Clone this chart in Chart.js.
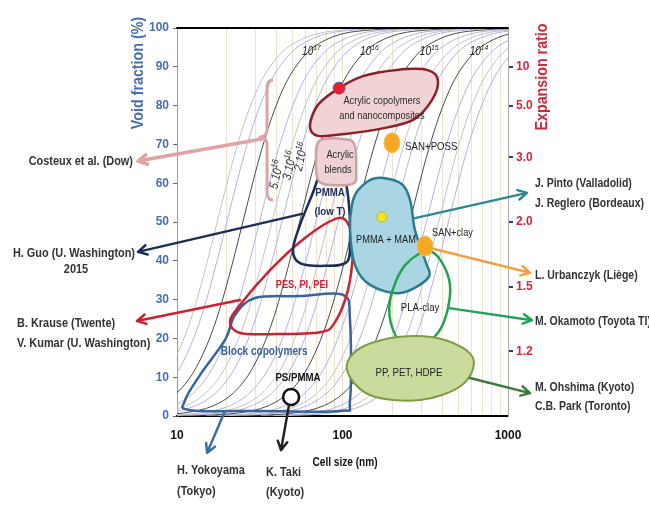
<!DOCTYPE html>
<html>
<head>
<meta charset="utf-8">
<script src="https://cdn.jsdelivr.net/npm/chart.js@4/dist/chart.umd.min.js"></script>
<style>
  html, body { margin: 0; padding: 0; background: #fff; }
</style>
</head>
<body>
<canvas id="chart" width="649" height="505"></canvas>
<script>
// ---- axes ----
const cellTicks = [10, 20, 30, 40, 50, 60, 70, 80, 90, 100, 200, 300, 400, 500, 600, 700, 800, 900, 1000];
const cellLabels = { 10: "10", 100: "100", 1000: "1000" };
const voidTicks = [0, 10, 20, 30, 40, 50, 60, 70, 80, 90, 100];
const ratioTicks = [10, 5.0, 3.0, 2.0, 1.5, 1.2];
const ratioLabels = ["10", "5.0", "3.0", "2.0", "1.5", "1.2"];

// ---- iso cell density curves ----
// cell size (nm) where each curve crosses 50 % void fraction
const densityNames = ["3.10^17", "2.10^17", "10^17", "5.10^16", "3.10^16", "2.10^16", "10^16", "5.10^15", "3.10^15", "2.10^15", "10^15", "5.10^14", "3.10^14", "2.10^14", "10^14", "5.10^13", "3.10^13", "2.10^13"];
const densityMid = [17.5, 20, 25, 31.5, 37.5, 43, 55, 69, 82, 94, 118, 149, 177, 202, 255, 321, 381, 436];
// shape of one curve: cell size / mid size  ->  void fraction (%)
const curveRatio = [0.1, 0.2, 0.3, 0.4, 0.5, 0.6, 0.7, 0.8, 0.9, 1, 1.15, 1.3, 1.5, 1.75, 2, 2.5, 3, 4, 6, 10, 40];
const curveVoid = [0.1, 0.8, 2.6, 6.0, 11.1, 17.8, 25.5, 33.9, 42.2, 50, 60.3, 68.7, 77.1, 84.3, 88.9, 94.0, 96.4, 98.5, 99.5, 99.9, 100];

// ---- material domains, [cell size nm, void fraction %] ----
const blockCopolymers = [[100.7, 31.2], [55.3, 30.9], [29.6, 30.4], [22.4, 26.0], [19.5, 19.6], [13.8, 10.6], [11.2, 4.1], [12.0, 1.5], [31.7, 1.3], [96.6, 1.3], [111, 4.1], [111, 24.7]];
const pesPiPei = [[94, 51.0], [111, 48.5], [115.6, 42.8], [107.9, 32.5], [90.1, 24.2], [73.1, 21.6], [36.5, 21.1], [24.0, 21.4], [20.9, 24.2], [24.0, 28.6], [36.5, 37.6], [59.3, 45.9]];
const pmmaLowT = [[75.2, 63.4], [65.5, 57.0], [55.3, 49.2], [50.2, 42.8], [55.3, 39.4], [78.3, 38.7], [106.4, 39.7], [111, 45.4], [109.4, 54.4], [103.5, 60.8], [90.1, 64.4]];
const acrylicCopolymers = [[95.3, 84.5], [133, 87.6], [213, 89.2], [324, 89.2], [377, 86.6], [347, 81.4], [267, 76.3], [168.5, 74.0], [103.5, 72.7], [71.1, 72.2], [63.6, 74.7], [71.1, 80.2]];
const acrylicBlends = [[73, 71], [100, 71.4], [118, 70], [121, 63], [117, 60], [90, 59.5], [72, 60.5], [69, 66]];
const pmmaMam = [[124.2, 58.2], [157, 61.3], [222.5, 60.1], [255.8, 55.7], [274, 47.9], [315, 40.2], [329, 35.6], [222.5, 31.7], [146.6, 33.8], [119, 38.9], [111, 47.9], [114, 54.4]];
const plaClay = [[347, 42.3], [446, 33.8], [388, 22.2], [256, 17.0], [202, 22.2], [194, 29.9], [239, 38.9]];
const ppPetHdpe = [[106.4, 11.9], [127.6, 17.5], [222.5, 20.4], [416, 19.6], [615, 14.9], [527, 8.0], [294, 4.1], [146.6, 5.4]];
// single results
const dotNames = ["acrylic", "SAN+POSS", "PMMA+MAM", "SAN+clay", "PS/PMMA"];
const dotCell = [95.3, 199, 173, 315, 48.9];
const dotVoid = [84.5, 70.4, 51.3, 43.8, 4.9];

function curveColor(name) {
  if (name.indexOf(".") < 0) return "#4a4a4a";
  return name.charAt(0) === "3" ? "#c2c2c8" : "#b3b3df";
}

const curveSets = densityNames.map(function (name, i) {
  return {
    label: name,
    data: curveRatio.map(function (r, k) { return { x: densityMid[i] * r, y: curveVoid[k] }; }),
    showLine: true,
    borderColor: curveColor(name),
    borderWidth: 1,
    pointRadius: 0,
    cubicInterpolationMode: "monotone"
  };
});

const FONT = "'Liberation Sans Narrow', 'Liberation Sans', Arial, sans-serif";

// squeeze text when no narrow face is installed
var squeeze = (function () {
  var c = document.createElement("canvas").getContext("2d");
  c.font = "bold 20px 'Liberation Sans Narrow', monospace";
  var a = c.measureText("Costeux et al. (Dow)").width;
  c.font = "bold 20px monospace";
  var b = c.measureText("Costeux et al. (Dow)").width;
  return Math.abs(a - b) < 0.5 ? 0.84 : 1;
})();

function toPx(chart, p) {
  return [chart.scales.x.getPixelForValue(p[0]), chart.scales.y.getPixelForValue(p[1])];
}

function smoothClosed(ctx, pts) {
  var n = pts.length;
  ctx.beginPath();
  ctx.moveTo(pts[0][0], pts[0][1]);
  for (var i = 0; i < n; i++) {
    var p0 = pts[(i - 1 + n) % n], p1 = pts[i], p2 = pts[(i + 1) % n], p3 = pts[(i + 2) % n];
    ctx.bezierCurveTo(
      p1[0] + (p2[0] - p0[0]) / 6, p1[1] + (p2[1] - p0[1]) / 6,
      p2[0] - (p3[0] - p1[0]) / 6, p2[1] - (p3[1] - p1[1]) / 6,
      p2[0], p2[1]);
  }
  ctx.closePath();
}

function drawRegion(chart, outline, fill, stroke, width) {
  var ctx = chart.ctx;
  smoothClosed(ctx, outline.map(function (p) { return toPx(chart, p); }));
  if (fill) { ctx.fillStyle = fill; ctx.fill(); }
  ctx.strokeStyle = stroke;
  ctx.lineWidth = width;
  ctx.stroke();
}

function drawArrow(chart, from, to, color, width) {
  var ctx = chart.ctx;
  var a = toPx(chart, from), b = toPx(chart, to);
  var ang = Math.atan2(b[1] - a[1], b[0] - a[0]);
  ctx.strokeStyle = color;
  ctx.lineWidth = width || 2.5;
  ctx.lineCap = "round";
  ctx.beginPath();
  ctx.moveTo(a[0], a[1]);
  ctx.lineTo(b[0], b[1]);
  ctx.moveTo(b[0] - 10 * Math.cos(ang - 0.5), b[1] - 10 * Math.sin(ang - 0.5));
  ctx.lineTo(b[0], b[1]);
  ctx.lineTo(b[0] - 10 * Math.cos(ang + 0.5), b[1] - 10 * Math.sin(ang + 0.5));
  ctx.stroke();
}

function text(ctx, s, x, y, font, color, align) {
  ctx.save();
  ctx.translate(x, y);
  ctx.scale(squeeze, 1);
  ctx.font = font;
  ctx.fillStyle = color;
  ctx.textAlign = align || "center";
  ctx.textBaseline = "middle";
  ctx.fillText(s, 0, 0);
  ctx.restore();
}

function power(ctx, base, exp, x, y, size, color) {
  ctx.save();
  ctx.translate(x, y);
  ctx.scale(squeeze, 1);
  ctx.font = "italic " + size + "px " + FONT;
  ctx.fillStyle = color;
  ctx.textAlign = "left";
  ctx.textBaseline = "alphabetic";
  ctx.fillText(base, 0, 0);
  var w = ctx.measureText(base).width;
  ctx.font = "italic " + Math.round(size * 0.7) + "px " + FONT;
  ctx.fillText(exp, w, -size * 0.4);
  ctx.restore();
}

const figurePlugin = {
  id: "figure",
  afterDatasetsDraw: function (chart) {
    var ctx = chart.ctx, area = chart.chartArea;
    ctx.save();
    ctx.lineJoin = "round";

    drawRegion(chart, blockCopolymers, null, "#3b639c", 2.5);
    drawRegion(chart, pesPiPei, null, "#cc2230", 2.5);
    drawRegion(chart, pmmaLowT, null, "#1c2d5a", 2.5);
    drawRegion(chart, acrylicCopolymers, "#f2d3d5", "#8e1f26", 2.5);
    drawRegion(chart, acrylicBlends, "#efd2d4", "#c9a2a6", 2.5);
    drawRegion(chart, pmmaMam, "#a9d6e2", "#2a7d8e", 2.5);
    drawRegion(chart, plaClay, null, "#22a352", 2.5);
    drawRegion(chart, ppPetHdpe, "#c9dc9d", "#7f9c45", 2);

    // single points
    var dotFill = ["#e8202c", "#f7a823", "#f2e51c", "#f7a823", "#ffffff"];
    var dotLine = ["#5a5aa8", "#f0c060", "#c8b820", "#f0c060", "#111111"];
    var dotR = [6, 9, 5, 9, 8];
    for (var i = 0; i < dotNames.length; i++) {
      var c = toPx(chart, [dotCell[i], dotVoid[i]]);
      ctx.beginPath();
      if (dotR[i] === 9) ctx.ellipse(c[0], c[1], 8, 10, 0, 0, Math.PI * 2);
      else ctx.arc(c[0], c[1], dotR[i], 0, Math.PI * 2);
      ctx.fillStyle = dotFill[i];
      ctx.fill();
      ctx.strokeStyle = dotLine[i];
      ctx.lineWidth = dotNames[i] === "PS/PMMA" ? 2.5 : 1;
      ctx.stroke();
    }

    // labels inside the plot
    var f10 = "11px " + FONT, b11 = "bold 11.5px " + FONT;
    var P = function (d, v) { return toPx(chart, [d, v]); };
    var p;
    p = P(173, 81.2); text(ctx, "Acrylic copolymers", p[0], p[1], f10, "#2a2a2a");
    p = P(173, 77.3); text(ctx, "and nanocomposites", p[0], p[1], f10, "#2a2a2a");
    p = P(96.6, 67.3); text(ctx, "Acrylic", p[0], p[1], f10, "#2a2a2a");
    p = P(94, 63.4); text(ctx, "blends", p[0], p[1], f10, "#2a2a2a");
    p = P(84, 57.5); text(ctx, "PMMA", p[0], p[1], b11, "#1c2d5a");
    p = P(84, 52.6); text(ctx, "(low T)", p[0], p[1], b11, "#1c2d5a");
    p = P(56.9, 33.8); text(ctx, "PES, PI, PEI", p[0], p[1], "bold 11px " + FONT, "#cc2230");
    p = P(33.6, 16.5); text(ctx, "Block copolymers", p[0], p[1], "bold 12px " + FONT, "#3b639c");
    p = P(53.8, 9.8); text(ctx, "PS/PMMA", p[0], p[1], "bold 11.5px " + FONT, "#111");
    p = P(183, 45.4); text(ctx, "PMMA + MAM", p[0], p[1], f10, "#222");
    p = P(239, 69.3); text(ctx, "SAN+POSS", p[0], p[1], "11.5px " + FONT, "#222", "left");
    p = P(462, 47.2); text(ctx, "SAN+clay", p[0], p[1], f10, "#222");
    p = P(294, 27.8); text(ctx, "PLA-clay", p[0], p[1], "11.5px " + FONT, "#222");
    p = P(252, 11.1); text(ctx, "PP, PET, HDPE", p[0], p[1], "11.5px " + FONT, "#222");

    // density labels on the curves
    p = P(57, 94.2); power(ctx, "10", "17", p[0], p[1] + 4, 12, "#222");
    p = P(135, 94.2); power(ctx, "10", "16", p[0] - 4, p[1] + 4, 12, "#222");
    p = P(310, 94.2); power(ctx, "10", "15", p[0] - 4, p[1] + 4, 12, "#222");
    p = P(620, 94.2); power(ctx, "10", "14", p[0] - 4, p[1] + 4, 12, "#222");
    var rot = [["5.10", 40.2, 62.9], ["3.10", 48.2, 65.2], ["2.10", 56.5, 67.5]];
    rot.forEach(function (r) {
      var q = P(r[1], r[2]);
      ctx.save();
      ctx.translate(q[0], q[1]);
      ctx.rotate(-1.35);
      power(ctx, r[0], "16", -17, 4, 12.5, "#333");
      ctx.restore();
    });

    // Costeux brace
    var bt = P(38, 86.6), bm = P(31.7, 71.9), bb = P(38, 55.7);
    var bx = P(35, 70)[0];
    ctx.strokeStyle = "#dca4a5";
    ctx.lineWidth = 3;
    ctx.beginPath();
    ctx.moveTo(bt[0], bt[1]);
    ctx.quadraticCurveTo(bx, bt[1], bx, bt[1] + 8);
    ctx.lineTo(bx, bm[1] - 8);
    ctx.quadraticCurveTo(bx, bm[1], bm[0], bm[1]);
    ctx.quadraticCurveTo(bx, bm[1], bx, bm[1] + 8);
    ctx.lineTo(bx, bb[1] - 8);
    ctx.quadraticCurveTo(bx, bb[1], bb[0], bb[1]);
    ctx.stroke();

    // arrows to the references
    drawArrow(chart, [32.6, 71.4], [5.81, 65.7], "#e2a2a3", 3.5);
    drawArrow(chart, [56.9, 52.1], [5.81, 42.3], "#1c2d5a");
    drawArrow(chart, [24.0, 29.9], [5.73, 24.5], "#cc2230");
    drawArrow(chart, [19.5, 1.3], [15.2, -9.5], "#3b6fa8");
    drawArrow(chart, [47.5, 2.8], [42.5, -8.8], "#222");
    drawArrow(chart, [274, 51.0], [1303, 57.5], "#2a8a9a");
    drawArrow(chart, [338, 43.3], [1358, 36.9], "#f4a043");
    drawArrow(chart, [440, 27.8], [1397, 24.7], "#22a35a");
    drawArrow(chart, [589, 9.8], [1358, 5.9], "#3d7a3d");

    // top frame line
    ctx.strokeStyle = "#000";
    ctx.lineWidth = 2;
    ctx.beginPath();
    ctx.moveTo(area.left, area.top);
    ctx.lineTo(area.right, area.top);
    ctx.stroke();

    // axis titles
    ctx.save();
    ctx.translate(138, 73);
    ctx.rotate(-Math.PI / 2);
    text(ctx, "Void fraction (%)", 0, 0, "bold 17px " + FONT, "#4a6fb0");
    ctx.restore();
    ctx.save();
    ctx.translate(542, 77);
    ctx.rotate(-Math.PI / 2);
    text(ctx, "Expansion ratio", 0, 0, "bold 17px " + FONT, "#d0283c");
    ctx.restore();
    text(ctx, "Cell size (nm)", 345, 463, "bold 12px " + FONT, "#111");

    // reference names
    var rf = "bold 13px " + FONT, rr = "bold 12.5px " + FONT, rc = "#333";
    text(ctx, "Costeux et al. (Dow)", 133, 161, rf, rc, "right");
    text(ctx, "H. Guo (U. Washington)", 135, 253, rf, rc, "right");
    text(ctx, "2015", 76, 269, rf, rc);
    text(ctx, "B. Krause (Twente)", 17, 323, rf, rc, "left");
    text(ctx, "V. Kumar (U. Washington)", 17, 343, rf, rc, "left");
    text(ctx, "H. Yokoyama", 177, 470, rf, rc, "left");
    text(ctx, "(Tokyo)", 177, 491, rf, rc, "left");
    text(ctx, "K. Taki", 266, 472, rf, rc, "left");
    text(ctx, "(Kyoto)", 266, 492, rf, rc, "left");
    text(ctx, "J. Pinto (Valladolid)", 535, 184, rr, rc, "left");
    text(ctx, "J. Reglero (Bordeaux)", 535, 204, rr, rc, "left");
    text(ctx, "L. Urbanczyk (Liège)", 535, 276, rr, rc, "left");
    text(ctx, "M. Okamoto (Toyota TI)", 535, 322, rr, rc, "left");
    text(ctx, "M. Ohshima (Kyoto)", 535, 388, rr, rc, "left");
    text(ctx, "C.B. Park (Toronto)", 535, 407, rr, rc, "left");

    ctx.restore();
  }
};

new Chart(document.getElementById("chart"), {
  type: "scatter",
  data: { datasets: curveSets },
  options: {
    responsive: false,
    animation: false,
    layout: { padding: { top: 28, left: 0, right: 0, bottom: 0 } },
    plugins: { legend: { display: false }, tooltip: { enabled: false } },
    scales: {
      x: {
        type: "logarithmic",
        min: 10,
        max: 1000,
        afterBuildTicks: function (scale) {
          scale.ticks = cellTicks.map(function (v) { return { value: v }; });
        },
        afterFit: function (scale) { scale.height = 89; },
        ticks: {
          autoSkip: false,
          maxRotation: 0,
          padding: 12,
          color: "#111",
          font: { family: FONT, size: 12, weight: "bold" },
          callback: function (v) { return cellLabels[v] || ""; }
        },
        grid: {
          drawTicks: false,
          color: function (c) {
            return (c.tick && (c.tick.value === 10 || c.tick.value === 1000)) ? "rgba(0,0,0,0)" : "#efe3cf";
          }
        },
        border: { color: "#000", width: 2 }
      },
      y: {
        position: "left",
        min: 0,
        max: 100,
        afterBuildTicks: function (scale) {
          scale.ticks = voidTicks.map(function (v) { return { value: v }; });
        },
        afterFit: function (scale) { scale.width = 177; },
        ticks: {
          padding: 4,
          color: "#4a6fb0",
          font: { family: FONT, size: 12, weight: "bold" }
        },
        grid: { drawOnChartArea: false, tickLength: 4, color: "#666" },
        border: { color: "#999", width: 1 }
      },
      y2: {
        position: "right",
        min: 0,
        max: 100,
        afterBuildTicks: function (scale) {
          scale.ticks = ratioTicks.map(function (r) { return { value: 100 * (1 - 1 / r) }; });
        },
        afterFit: function (scale) { scale.width = 141; },
        ticks: {
          padding: 3,
          color: "#d0283c",
          font: { family: FONT, size: 12, weight: "bold" },
          callback: function (v, i) { return ratioLabels[i]; }
        },
        grid: { drawOnChartArea: false, tickLength: 5, color: "#2a3f6a", lineWidth: 2 },
        border: { color: "#aaa", width: 1 }
      }
    }
  },
  plugins: [figurePlugin]
});
</script>
</body>
</html>
